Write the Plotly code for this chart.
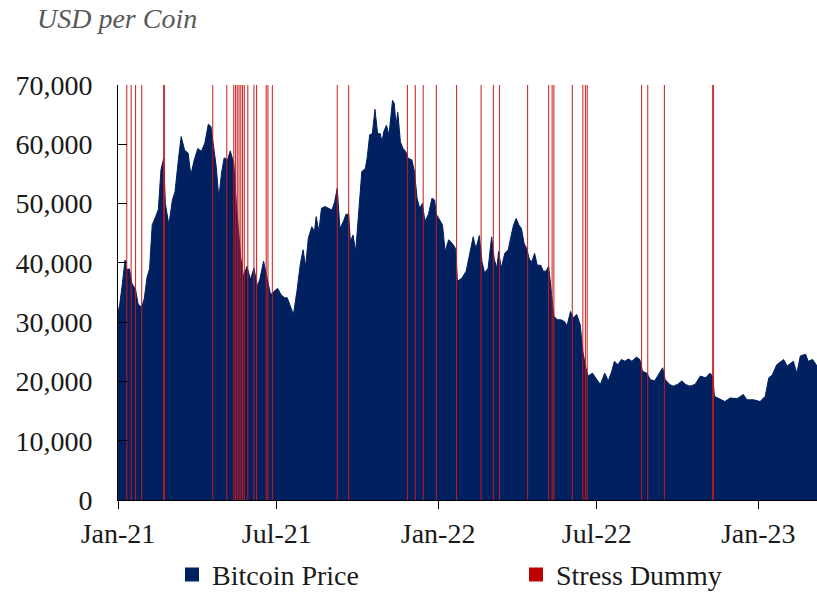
import plotly.graph_objects as go

# Bitcoin price (USD per coin)
price_dates = [
    "2021-01-01", "2021-01-03", "2021-01-06", "2021-01-09", "2021-01-11", "2021-01-14",
    "2021-01-17", "2021-01-21", "2021-01-24", "2021-01-28", "2021-01-31", "2021-02-03",
    "2021-02-06", "2021-02-09", "2021-02-13", "2021-02-16", "2021-02-19", "2021-02-22",
    "2021-02-24", "2021-02-28", "2021-03-04", "2021-03-07", "2021-03-11", "2021-03-14",
    "2021-03-18", "2021-03-22", "2021-03-25", "2021-03-29", "2021-04-02", "2021-04-06",
    "2021-04-10", "2021-04-14", "2021-04-17", "2021-04-20", "2021-04-23", "2021-04-26",
    "2021-04-29", "2021-05-02", "2021-05-06", "2021-05-09", "2021-05-13", "2021-05-16",
    "2021-05-19", "2021-05-21", "2021-05-24", "2021-05-28", "2021-06-01", "2021-06-05",
    "2021-06-09", "2021-06-12", "2021-06-16", "2021-06-19", "2021-06-24", "2021-06-28",
    "2021-07-02", "2021-07-06", "2021-07-10", "2021-07-13", "2021-07-16", "2021-07-20",
    "2021-07-24", "2021-07-28", "2021-07-31", "2021-08-03", "2021-08-06", "2021-08-10",
    "2021-08-13", "2021-08-15", "2021-08-18", "2021-08-21", "2021-08-25", "2021-08-29",
    "2021-09-02", "2021-09-05", "2021-09-08", "2021-09-11", "2021-09-15", "2021-09-18",
    "2021-09-21", "2021-09-23", "2021-09-26", "2021-09-29", "2021-10-02", "2021-10-06",
    "2021-10-10", "2021-10-12", "2021-10-15", "2021-10-18", "2021-10-21", "2021-10-24",
    "2021-10-27", "2021-10-29", "2021-10-31", "2021-11-03", "2021-11-06", "2021-11-10",
    "2021-11-12", "2021-11-14", "2021-11-16", "2021-11-19", "2021-11-22", "2021-11-25",
    "2021-11-28", "2021-12-02", "2021-12-05", "2021-12-08", "2021-12-11", "2021-12-14",
    "2021-12-17", "2021-12-21", "2021-12-25", "2021-12-28", "2021-12-30", "2022-01-02",
    "2022-01-06", "2022-01-09", "2022-01-13", "2022-01-17", "2022-01-21", "2022-01-23",
    "2022-01-28", "2022-02-02", "2022-02-06", "2022-02-10", "2022-02-13", "2022-02-17",
    "2022-02-20", "2022-02-23", "2022-02-27", "2022-03-03", "2022-03-06", "2022-03-09",
    "2022-03-11", "2022-03-14", "2022-03-18", "2022-03-22", "2022-03-25", "2022-03-28",
    "2022-03-31", "2022-04-03", "2022-04-06", "2022-04-09", "2022-04-12", "2022-04-15",
    "2022-04-18", "2022-04-21", "2022-04-24", "2022-04-28", "2022-05-01", "2022-05-04",
    "2022-05-07", "2022-05-09", "2022-05-11", "2022-05-13", "2022-05-17", "2022-05-21",
    "2022-05-25", "2022-05-28", "2022-06-01", "2022-06-04", "2022-06-08", "2022-06-12",
    "2022-06-15", "2022-06-18", "2022-06-21", "2022-06-26", "2022-07-01", "2022-07-05",
    "2022-07-10", "2022-07-14", "2022-07-18", "2022-07-21", "2022-07-25", "2022-07-29",
    "2022-08-02", "2022-08-06", "2022-08-10", "2022-08-15", "2022-08-19", "2022-08-22",
    "2022-08-27", "2022-08-31", "2022-09-05", "2022-09-10", "2022-09-14", "2022-09-17",
    "2022-09-22", "2022-09-26", "2022-10-01", "2022-10-06", "2022-10-10", "2022-10-15",
    "2022-10-21", "2022-10-27", "2022-11-02", "2022-11-07", "2022-11-10", "2022-11-12",
    "2022-11-19", "2022-11-24", "2022-11-30", "2022-12-08", "2022-12-15", "2022-12-19",
    "2022-12-27", "2023-01-03", "2023-01-09", "2023-01-13", "2023-01-17", "2023-01-22",
    "2023-01-30", "2023-02-03", "2023-02-10", "2023-02-14", "2023-02-18", "2023-02-24",
    "2023-02-27", "2023-03-04", "2023-03-09",
]
price_values = [
    31500, 33000, 36500, 40500, 38800, 39000,
    36500, 35500, 33000, 32500, 34000, 37500,
    39000, 46400, 47800, 49000, 55700, 57600,
    50000, 46400, 50600, 52000, 57600, 61300,
    59000, 58500, 54800, 57400, 59300, 58800,
    60200, 63400, 63000, 59900, 56200, 50900,
    55100, 57700, 57400, 58900, 56800, 49800,
    44200, 40800, 37700, 39400, 37200, 39100,
    36000, 37400, 40300, 38000, 34600, 35200,
    35700, 34600, 34100, 34100, 32800, 31300,
    35200, 39900, 42200, 39400, 44200, 46100,
    45300, 47800, 45300, 49200, 49500, 49200,
    48900, 50300, 52600, 45800, 47000, 48200,
    48200, 43600, 44700, 41900, 48200, 55400,
    55900, 57600, 61600, 61800, 65900, 61800,
    61800, 60400, 62100, 63200, 61600, 67400,
    66900, 63200, 65400, 60400, 59300, 58800,
    57600, 57400, 55400, 50900, 49200, 50000,
    47000, 48200, 50900, 50600, 48200, 47500,
    46400, 41900, 43900, 43300, 42400, 36900,
    37400, 38600, 41600, 44400, 42400, 44600,
    40200, 38300, 39100, 44400, 40600, 39100,
    41900, 39100, 41600, 42200, 44400, 46400,
    47500, 46400, 45800, 43300, 42400, 40600,
    40200, 41600, 39600, 39600, 38600, 38600,
    39400, 36400, 34100, 31000, 30400, 30400,
    30100, 29400, 31800, 30700, 31300, 29600,
    25100, 22600, 20900, 21400, 20300, 19500,
    21400, 20100, 21700, 23400, 22800, 23700,
    23400, 23800, 23400, 24100, 23700, 21700,
    21400, 20300, 20100, 21400, 22300, 20300,
    19500, 19200, 19500, 20100, 19500, 19200,
    19500, 20900, 20600, 21400, 20900, 17500,
    16900, 16600, 17200, 17100, 17800, 16900,
    16900, 16600, 17500, 20600, 21100, 22800,
    23700, 22600, 23400, 21400, 24300, 24600,
    23400, 23700, 22600,
]

# Stress dummy (= 1 on stress days)
stress_dates = [
    "2021-01-11", "2021-01-16", "2021-01-21", "2021-01-28", "2021-02-22", "2021-02-23",
    "2021-04-19", "2021-05-05", "2021-05-13", "2021-05-15", "2021-05-17", "2021-05-19",
    "2021-05-21", "2021-05-23", "2021-05-25", "2021-05-29", "2021-06-05", "2021-06-08",
    "2021-06-19", "2021-06-21", "2021-06-26", "2021-09-08", "2021-09-21", "2021-11-27",
    "2021-12-06", "2021-12-15", "2021-12-30", "2022-01-22", "2022-02-19", "2022-03-05",
    "2022-03-12", "2022-04-13", "2022-05-07", "2022-05-11", "2022-05-13", "2022-06-03",
    "2022-06-15", "2022-06-18", "2022-06-20", "2022-08-21", "2022-08-28", "2022-09-16",
    "2022-11-10", "2022-11-11",
]
stress_values = [
    1, 1, 1, 1, 1, 1, 1, 1, 1, 1, 1, 1, 1, 1, 1, 1, 1, 1, 1, 1, 1, 1,
    1, 1, 1, 1, 1, 1, 1, 1, 1, 1, 1, 1, 1, 1, 1, 1, 1, 1, 1, 1, 1, 1,
]

NAVY = "#002060"
RED = "#C00000"
FONT = "Liberation Serif"
FS = 28

fig = go.Figure()

# Price area
fig.add_trace(go.Scatter(
    x=price_dates, y=price_values, mode="lines", fill="tozeroy",
    line=dict(color=NAVY, width=1), fillcolor=NAVY, showlegend=False,
))

# Stress dummy: one thin spike per stress day on a hidden 0-1 axis (drawn over the area)
spike_x, spike_y = [], []
for d, v in zip(stress_dates, stress_values):
    spike_x += [d, d, None]
    spike_y += [0, v, None]
fig.add_trace(go.Scatter(
    x=spike_x, y=spike_y, mode="lines", yaxis="y2",
    line=dict(color="#D01818", width=1.1), opacity=0.9, showlegend=False,
))

# Legend entries (square swatches), one legend each so they can be placed apart
fig.add_trace(go.Scatter(x=[None], y=[None], mode="markers", name="Bitcoin Price",
                         marker=dict(symbol="square", size=14, color=NAVY),
                         legend="legend"))
fig.add_trace(go.Scatter(x=[None], y=[None], mode="markers", name="Stress Dummy",
                         marker=dict(symbol="square", size=14, color=RED),
                         legend="legend2"))

legend_style = dict(
    orientation="h", yanchor="middle", y=-0.18, xanchor="left",
    bgcolor="rgba(0,0,0,0)", itemwidth=30,
    font=dict(family=FONT, size=FS, color="#1a1a1a"),
)

fig.update_layout(
    width=817, height=592,
    margin=dict(l=118, r=0, t=85, b=92, autoexpand=False),
    plot_bgcolor="white", paper_bgcolor="white",
    font=dict(family=FONT, size=FS, color="#1a1a1a"),
    title=dict(
        text="<i>USD per Coin</i>", x=37 / 817, xref="container", xanchor="left",
        y=1 - 18 / 592, yref="container", yanchor="middle",
        font=dict(family=FONT, size=FS, color="#595959"),
    ),
    xaxis=dict(
        type="date", range=["2021-01-01", "2023-03-09"],
        tick0="2021-01-01", dtick="M6", tickformat="%b-%y",
        showgrid=False, zeroline=False, showline=True, linecolor="black", linewidth=1,
        ticks="outside", ticklen=8, tickcolor="black",
    ),
    yaxis=dict(
        range=[0, 70000], dtick=10000, tickformat=",",
        showgrid=False, zeroline=False, showline=True, linecolor="black", linewidth=1,
        ticks="inside", ticklen=9, tickcolor="black", ticklabelstandoff=19,
    ),
    yaxis2=dict(range=[0, 1], overlaying="y", visible=False, fixedrange=True),
    showlegend=True,
    legend=dict(legend_style, x=(172 - 118) / 699),
    legend2=dict(legend_style, x=(516 - 118) / 699),
)

# page body margin would shift the 817x592 figure inside the window
fig.write_html("out.html", config={"displayModeBar": False},
               post_script="document.body.style.margin = '0';")
